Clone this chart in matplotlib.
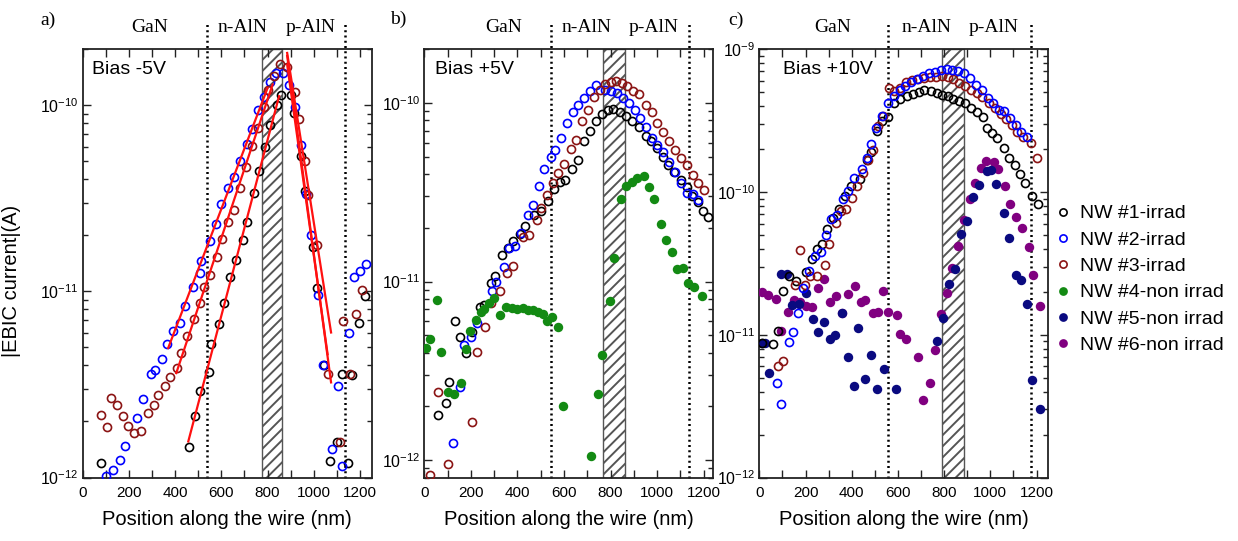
import numpy as np
import matplotlib.pyplot as plt
from matplotlib.lines import Line2D
from matplotlib.ticker import MultipleLocator, FixedLocator, NullFormatter

plt.rcParams['font.family'] = 'Liberation Sans'
plt.rcParams['mathtext.fontset'] = 'custom'
plt.rcParams['mathtext.rm'] = 'Liberation Sans'
plt.rcParams['hatch.linewidth'] = 1.4
plt.rcParams['hatch.color'] = '#777777'

# ---------------- data (position in nm, |EBIC| in A) ----------------
labels = ['NW #1-irrad', 'NW #2-irrad', 'NW #3-irrad',
          'NW #4-non irrad', 'NW #5-non irrad', 'NW #6-non irrad']
colors = ['#000000', '#0000ff', '#8b1414', '#138a13', '#0a0a80', '#800080']
filled = [False, False, False, True, True, True]

# panel a) bias -5V
a_nw1_x = [80, 458, 488, 509, 546, 556, 590, 611, 638, 662, 694, 713, 742, 761, 790, 812,
           839, 859, 900, 914, 943, 964, 997, 1016, 1045, 1070, 1099, 1121, 1150, 1164, 1196, 1223]
a_nw1_y = [1.2e-12, 1.45e-12, 2.15e-12, 2.9e-12, 3.7e-12, 5.2e-12, 6.7e-12, 8.7e-12, 1.2e-11,
           1.48e-11, 1.9e-11, 2.35e-11, 3.4e-11, 4.45e-11, 6.0e-11, 7.8e-11, 1.0e-10, 1.14e-10,
           1.14e-10, 9.1e-11, 5.35e-11, 3.45e-11, 1.74e-11, 1.04e-11, 4.0e-12, 1.22e-12,
           1.55e-12, 3.6e-12, 1.2e-12, 3.55e-12, 6.8e-12, 9.5e-12]
a_nw2_x = [99, 131, 160, 182, 236, 259, 294, 313, 345, 364, 389, 422, 441, 477, 509, 514, 549,
           575, 600, 630, 655, 681, 710, 731, 760, 783, 812, 837, 866, 895, 917, 943, 968, 990,
           1019, 1041, 1077, 1103, 1124, 1154, 1176, 1201, 1227]
a_nw2_y = [1.02e-12, 1.1e-12, 1.24e-12, 1.47e-12, 2.1e-12, 2.65e-12, 3.6e-12, 3.8e-12, 4.35e-12,
           5.2e-12, 6.1e-12, 6.8e-12, 8.4e-12, 1.05e-11, 1.26e-11, 1.46e-11, 1.86e-11, 2.3e-11,
           2.96e-11, 3.6e-11, 4.1e-11, 5.0e-11, 6.2e-11, 7.5e-11, 9.4e-11, 1.11e-10, 1.34e-10,
           1.5e-10, 1.5e-10, 1.29e-10, 9.8e-11, 6.1e-11, 3.33e-11, 2.02e-11, 9.6e-12, 4.0e-12,
           1.42e-12, 3.1e-12, 1.15e-12, 6.0e-12, 1.2e-11, 1.28e-11, 1.4e-11]
a_nw3_x = [80, 106, 124, 148, 175, 197, 221, 252, 284, 309, 328, 357, 378, 408, 426, 451, 483,
           507, 527, 550, 582, 601, 630, 655, 681, 706, 731, 757, 783, 800, 827, 856, 885, 920,
           936, 964, 975, 1012, 1063, 1114, 1128, 1157, 1182, 1208]
a_nw3_y = [2.17e-12, 1.86e-12, 2.68e-12, 2.46e-12, 2.15e-12, 1.9e-12, 1.74e-12, 1.77e-12,
           2.22e-12, 2.45e-12, 2.78e-12, 3.1e-12, 3.45e-12, 3.9e-12, 4.65e-12, 5.75e-12, 7.1e-12,
           8.7e-12, 1.05e-11, 1.22e-11, 1.53e-11, 1.91e-11, 2.35e-11, 2.73e-11, 3.6e-11, 4.65e-11,
           6.05e-11, 7.55e-11, 9.8e-11, 1.21e-10, 1.44e-10, 1.67e-10, 1.6e-10, 1.18e-10, 8.4e-11,
           5.0e-11, 3.3e-11, 1.78e-11, 3.6e-12, 1.55e-12, 6.9e-12, 3.6e-12, 7.6e-12, 1.02e-11]

# panel b) bias +5V
b_nw1_x = [60, 92, 104, 131, 152, 178, 203, 240, 257, 286, 305, 332, 358, 382, 412, 434, 473,
           501, 530, 556, 581, 606, 634, 659, 685, 710, 738, 764, 789, 810, 839, 868, 892, 921,
           950, 973, 997, 1023, 1047, 1072, 1101, 1126, 1151, 1177, 1195, 1217]
b_nw1_y = [1.78e-12, 2.1e-12, 2.75e-12, 6.0e-12, 4.9e-12, 4.0e-12, 5.2e-12, 7.2e-12, 7.4e-12,
           9.8e-12, 1.08e-11, 1.41e-11, 1.55e-11, 1.69e-11, 1.84e-11, 2.04e-11, 2.35e-11, 2.5e-11,
           2.83e-11, 3.3e-11, 3.6e-11, 3.7e-11, 4.25e-11, 4.8e-11, 6.1e-11, 6.95e-11, 7.95e-11,
           8.7e-11, 9.15e-11, 9.3e-11, 8.9e-11, 8.5e-11, 7.95e-11, 7.3e-11, 6.55e-11, 6.1e-11,
           5.6e-11, 5.0e-11, 4.5e-11, 4.1e-11, 3.7e-11, 3.4e-11, 3.03e-11, 2.8e-11, 2.5e-11, 2.3e-11]
b_nw2_x = [124, 154, 171, 200, 228, 290, 307, 341, 365, 389, 415, 447, 465, 491, 516, 542, 562,
           588, 612, 638, 659, 685, 710, 736, 777, 800, 829, 853, 878, 904, 925, 950, 976, 1000,
           1023, 1050, 1076, 1101, 1126, 1152, 1177]
b_nw2_y = [1.25e-12, 2.57e-12, 4.4e-12, 4.9e-12, 5.85e-12, 8.9e-12, 1.0e-11, 1.21e-11, 1.54e-11,
           1.58e-11, 1.88e-11, 2.35e-11, 2.68e-11, 3.43e-11, 4.27e-11, 5.0e-11, 5.45e-11, 6.4e-11,
           7.75e-11, 8.9e-11, 9.7e-11, 1.07e-10, 1.17e-10, 1.26e-10, 1.19e-10, 1.17e-10, 1.14e-10,
           1.07e-10, 1.0e-10, 9.15e-11, 8.3e-11, 7.3e-11, 6.4e-11, 5.8e-11, 5.35e-11, 4.67e-11,
           4.1e-11, 3.58e-11, 3.15e-11, 3.1e-11, 2.87e-11]
b_nw3_x = [24, 59, 103, 203, 226, 261, 286, 325, 355, 379, 425, 451, 484, 501, 526, 552, 573,
           599, 628, 652, 677, 703, 727, 753, 777, 803, 825, 849, 872, 897, 921, 954, 976, 1001,
           1026, 1050, 1076, 1102, 1126, 1152, 1177, 1203]
b_nw3_y = [8.3e-13, 2.4e-12, 9.5e-13, 1.63e-12, 4.05e-12, 5.6e-12, 7.6e-12, 8.9e-12, 1.12e-11,
           1.23e-11, 1.77e-11, 1.82e-11, 2.2e-11, 2.6e-11, 3.07e-11, 3.58e-11, 4.05e-11, 4.57e-11,
           5.5e-11, 6.2e-11, 7.95e-11, 9.1e-11, 1.08e-10, 1.19e-10, 1.28e-10, 1.32e-10, 1.33e-10,
           1.29e-10, 1.25e-10, 1.17e-10, 1.12e-10, 9.7e-11, 8.9e-11, 7.75e-11, 6.9e-11, 6.1e-11,
           5.45e-11, 4.9e-11, 4.47e-11, 3.95e-11, 3.58e-11, 3.24e-11]
b_nw4_x = [6, 24, 53, 73, 103, 128, 159, 178, 197, 221, 243, 257, 279, 300, 326, 351, 375, 398,
           422, 444, 468, 490, 509, 526, 547, 573, 595, 714, 746, 764, 796, 815, 843, 868, 892,
           915, 944, 964, 987, 1016, 1037, 1062, 1083, 1112, 1134, 1159, 1191]
b_nw4_y = [4.25e-12, 4.8e-12, 7.9e-12, 4.05e-12, 2.4e-12, 2.35e-12, 2.7e-12, 4.2e-12, 5.3e-12,
           6.1e-12, 6.8e-12, 7.0e-12, 7.6e-12, 8.1e-12, 6.5e-12, 7.2e-12, 7.1e-12, 7.0e-12,
           7.1e-12, 6.9e-12, 6.9e-12, 6.8e-12, 6.6e-12, 6.0e-12, 6.3e-12, 5.6e-12, 2.0e-12,
           1.06e-12, 2.35e-12, 3.9e-12, 7.8e-12, 1.36e-11, 2.9e-11, 3.43e-11, 3.6e-11, 3.8e-11,
           3.88e-11, 3.4e-11, 2.9e-11, 2.1e-11, 1.72e-11, 1.46e-11, 1.18e-11, 1.19e-11, 9.8e-12,
           9.3e-12, 8.3e-12]

# panel c) bias +10V
c_nw1_x = [10, 58, 80, 102, 127, 160, 204, 226, 248, 272, 294, 320, 345, 370, 396, 437, 464,
           483, 509, 531, 556, 582, 611, 639, 665, 690, 713, 742, 767, 792, 815, 840, 865, 891,
           917, 942, 968, 985, 1007, 1029, 1058, 1080, 1105, 1128, 1150, 1182, 1208]
c_nw1_y = [8.7e-12, 8.6e-12, 1.07e-11, 2.04e-11, 2.57e-11, 2.39e-11, 2.76e-11, 3.4e-11, 4.0e-11,
           4.3e-11, 5.5e-11, 6.6e-11, 7.6e-11, 9.4e-11, 1.11e-10, 1.24e-10, 1.67e-10, 1.92e-10,
           2.68e-10, 3.13e-10, 3.38e-10, 4.18e-10, 4.47e-10, 4.67e-10, 4.88e-10, 4.99e-10,
           5.16e-10, 5.07e-10, 4.93e-10, 4.8e-10, 4.67e-10, 4.49e-10, 4.37e-10, 4.22e-10,
           3.91e-10, 3.64e-10, 3.34e-10, 2.83e-10, 2.6e-10, 2.39e-10, 2.05e-10, 1.73e-10,
           1.55e-10, 1.34e-10, 1.16e-10, 9.4e-11, 8.3e-11]
c_nw2_x = [76, 93, 127, 146, 166, 188, 217, 243, 268, 290, 312, 335, 364, 386, 410, 444, 466,
           483, 505, 531, 556, 582, 607, 632, 658, 684, 709, 734, 760, 786, 811, 836, 862, 888,
           913, 937, 964, 988, 1012, 1036, 1061, 1083, 1109, 1134, 1160]
c_nw2_y = [4.6e-12, 3.25e-12, 8.9e-12, 1.04e-11, 1.42e-11, 2.13e-11, 2.8e-11, 3.55e-11, 3.8e-11,
           5.0e-11, 6.45e-11, 6.9e-11, 9.0e-11, 1.02e-10, 1.26e-10, 1.45e-10, 1.74e-10, 2.17e-10,
           2.8e-10, 3.43e-10, 4.22e-10, 4.67e-10, 5.16e-10, 5.57e-10, 5.89e-10, 6.23e-10,
           6.52e-10, 6.78e-10, 6.97e-10, 7.16e-10, 7.28e-10, 7.2e-10, 7.08e-10, 6.81e-10,
           6.33e-10, 5.61e-10, 5.16e-10, 4.59e-10, 4.18e-10, 3.78e-10, 3.7e-10, 3.31e-10,
           2.96e-10, 2.65e-10, 2.42e-10]
c_nw3_x = [80, 102, 156, 175, 197, 221, 250, 284, 301, 330, 352, 374, 403, 422, 447, 469, 491,
           512, 534, 560, 585, 611, 636, 662, 687, 713, 738, 764, 789, 815, 840, 865, 891, 917,
           942, 966, 993, 1019, 1044, 1068, 1092, 1117, 1141, 1175, 1204]
c_nw3_y = [6.0e-12, 6.6e-12, 2.22e-11, 3.9e-11, 2.22e-11, 2.6e-11, 2.6e-11, 3.1e-11, 4.3e-11,
           6.07e-11, 7.36e-11, 7.65e-11, 9.1e-11, 1.1e-10, 1.37e-10, 1.67e-10, 1.97e-10, 2.91e-10,
           3.43e-10, 5.37e-10, 5.1e-10, 5.37e-10, 5.9e-10, 6.1e-10, 6.24e-10, 6.34e-10, 6.44e-10,
           6.44e-10, 6.52e-10, 6.44e-10, 6.24e-10, 5.83e-10, 5.57e-10, 5.16e-10, 4.93e-10,
           4.61e-10, 4.22e-10, 3.89e-10, 3.53e-10, 3.25e-10, 2.96e-10, 2.65e-10, 2.42e-10,
           2.2e-10, 1.73e-10]
c_nw5_x = [10, 25, 44, 95, 122, 141, 173, 204, 233, 255, 279, 304, 328, 360, 386, 408, 429, 457,
           483, 508, 539, 592, 771, 796, 821, 847, 873, 901, 927, 949, 985, 1004, 1026, 1058,
           1080, 1109, 1131, 1160, 1182, 1214]
c_nw5_y = [8.7e-12, 8.7e-12, 5.4e-12, 2.66e-11, 2.66e-11, 1.62e-11, 1.63e-11, 1.95e-11, 1.29e-11,
           1.04e-11, 1.22e-11, 9.3e-12, 1.0e-11, 1.41e-11, 7.0e-12, 4.37e-12, 1.12e-11, 4.93e-12,
           7.2e-12, 4.2e-12, 5.75e-12, 4.2e-12, 9.0e-12, 1.32e-11, 2.25e-11, 2.87e-11, 5.1e-11,
           6.3e-11, 9.3e-11, 1.12e-10, 1.41e-10, 1.42e-10, 1.13e-10, 7.15e-11, 4.8e-11, 2.63e-11,
           2.42e-11, 1.64e-11, 4.8e-12, 3.0e-12]
c_nw6_x = [10, 39, 71, 95, 124, 151, 175, 204, 229, 253, 280, 306, 330, 360, 386, 413, 440, 459,
           493, 515, 534, 559, 597, 611, 636, 687, 709, 738, 760, 786, 811, 833, 859, 884, 910,
           935, 961, 981, 1015, 1034, 1063, 1087, 1112, 1135, 1167, 1186, 1216]
c_nw6_y = [2.0e-11, 1.91e-11, 1.78e-11, 1.07e-11, 1.45e-11, 1.75e-11, 1.71e-11, 1.58e-11,
           1.56e-11, 2.14e-11, 2.46e-11, 1.7e-11, 1.87e-11, 1.41e-11, 1.94e-11, 2.21e-11, 1.7e-11,
           1.75e-11, 1.41e-11, 1.44e-11, 2.02e-11, 1.44e-11, 1.37e-11, 1.02e-11, 9.4e-12, 7.0e-12,
           3.5e-12, 4.6e-12, 7.8e-12, 1.39e-11, 1.96e-11, 2.92e-11, 4.2e-11, 6.37e-11, 8.95e-11,
           1.15e-10, 1.48e-10, 1.64e-10, 1.62e-10, 1.44e-10, 1.1e-10, 8.3e-11, 6.67e-11, 5.64e-11,
           4.1e-11, 2.63e-11, 1.59e-11]

# exponential fits drawn in panel a: (series, fit range, drawn range), nm
a_fits = [(1, (360, 815), (370, 800)),
          (2, (400, 860), (405, 822)),
          (0, (455, 860), (457, 850)),
          (0, (880, 1020), (885, 1060)),
          (1, (880, 1020), (885, 1075)),
          (2, (880, 1020), (885, 1075))]

panels = [
    dict(tag='a)', bias='Bias -5V', xmax=1250, ylim=(1e-12, 2e-10),
         series=[(0, a_nw1_x, a_nw1_y), (1, a_nw2_x, a_nw2_y), (2, a_nw3_x, a_nw3_y)],
         borders=[540, 1135], band=(776, 863), names=[291, 694, 987]),
    dict(tag='b)', bias='Bias +5V', xmax=1240, ylim=(8e-13, 2e-10),
         series=[(0, b_nw1_x, b_nw1_y), (1, b_nw2_x, b_nw2_y), (2, b_nw3_x, b_nw3_y),
                 (3, b_nw4_x, b_nw4_y)],
         borders=[545, 1137], band=(767, 861), names=[343, 695, 983]),
    dict(tag='c)', bias='Bias +10V', xmax=1250, ylim=(1e-12, 1e-9),
         series=[(5, c_nw6_x, c_nw6_y), (4, c_nw5_x, c_nw5_y), (0, c_nw1_x, c_nw1_y),
                 (2, c_nw3_x, c_nw3_y), (1, c_nw2_x, c_nw2_y)],
         borders=[559, 1178], band=(792, 888), names=[316, 723, 1015]),
]
region_names = ['GaN', 'n-AlN', 'p-AlN']

# ---------------- layout (pixels of the 1238x541 image) ----------------
W, H = 1238, 541
lefts = [82.7, 424.3, 759.3]
tag_pos = [(48, 20), (398, 19), (736, 20)]
bias_x = [0.032, 0.037, 0.082]

fig = plt.figure(figsize=(W / 100, H / 100), dpi=100)


def plot_series(ax, idx, x, y):
    if filled[idx]:
        ax.plot(x, y, 'o', ms=6.8, mfc=colors[idx], mec=colors[idx], mew=0, zorder=3)
    else:
        ax.plot(x, y, 'o', ms=5.8, mfc='none', mec=colors[idx], mew=1.2, zorder=3)


def fit_line(ax, x, y, fit_rng, draw_rng):
    x = np.asarray(x, dtype=float)
    y = np.asarray(y, dtype=float)
    m = (x >= fit_rng[0]) & (x <= fit_rng[1])
    k, b = np.polyfit(x[m], np.log10(y[m]), 1)
    xs = np.array(draw_rng, dtype=float)
    ax.plot(xs, 10 ** (k * xs + b), color='#ff1010', lw=1.6, zorder=4)


def decade_ticks(lo, hi):
    e = np.arange(np.ceil(np.log10(lo) - 1e-9), np.floor(np.log10(hi) + 1e-9) + 1)
    major = 10.0 ** e
    minor = [m * 10.0 ** k for k in range(int(e[0]) - 1, int(e[-1]) + 1) for m in range(2, 10)]
    minor = [v for v in minor if lo <= v <= hi]
    return major, minor


axes = []
for i, p in enumerate(panels):
    ax = fig.add_axes([lefts[i] / W, 1 - 477.5 / H, 288.8 / W, 428.2 / H])
    axes.append(ax)
    ax.set_yscale('log')
    ax.set_xlim(0, p['xmax'])
    ax.set_ylim(*p['ylim'])
    ax.xaxis.set_major_locator(MultipleLocator(200))
    ax.xaxis.set_minor_locator(MultipleLocator(100))
    major, minor = decade_ticks(*p['ylim'])
    ax.yaxis.set_major_locator(FixedLocator(major))
    ax.yaxis.set_minor_locator(FixedLocator(minor))
    ax.yaxis.set_minor_formatter(NullFormatter())
    ax.tick_params(which='both', direction='in', top=True, right=True, width=1.0, color='#222222')
    ax.tick_params(axis='x', which='both', length=5.5, labelsize=11, pad=6)
    ax.tick_params(axis='y', which='major', length=6, labelsize=11.5, pad=3)
    ax.tick_params(axis='y', which='minor', length=3.8)
    for s in ax.spines.values():
        s.set_linewidth(1.3)
        s.set_color('#222222')

    ax.axvspan(*p['band'], facecolor='white', edgecolor='#555555', hatch='///', lw=1.0, zorder=1)
    for xb in p['borders']:
        ax.axvline(xb, ymin=0, ymax=1.06, clip_on=False, color='black', lw=1.8,
                   ls=(0, (0.8, 1.3)), zorder=2)
    for xn, name in zip(p['names'], region_names):
        ax.text(xn, 1.05, name, transform=ax.get_xaxis_transform(), ha='center', va='center',
                family='Liberation Serif', fontsize=14)
    ax.text(bias_x[i], 0.952, p['bias'], transform=ax.transAxes, ha='left', va='center',
            fontsize=14)

    for idx, x, y in p['series']:
        plot_series(ax, idx, x, y)

    ax.set_xlabel('Position along the wire (nm)', fontsize=14.5, labelpad=7)
    fig.text(tag_pos[i][0] / W, 1 - tag_pos[i][1] / H, p['tag'], ha='center', va='center',
             family='Liberation Serif', fontsize=14)

# fitted exponential slopes in panel a
a_series = {idx: (x, y) for idx, x, y in panels[0]['series']}
for idx, frng, drng in a_fits:
    fit_line(axes[0], *a_series[idx], frng, drng)

axes[0].set_ylabel('|EBIC current|(A)', fontsize=14.5)
axes[0].yaxis.set_label_coords(-0.215, 0.46)

handles = []
for idx in range(6):
    if filled[idx]:
        handles.append(Line2D([], [], ls='none', marker='o', ms=6.3, mfc=colors[idx],
                              mec=colors[idx], mew=0))
    else:
        handles.append(Line2D([], [], ls='none', marker='o', ms=5.2, mfc='none',
                              mec=colors[idx], mew=1.2))
fig.legend(handles, labels, loc='center left', bbox_to_anchor=(1053 / W, 1 - 279.5 / H),
           frameon=False, fontsize=14, handlelength=1.0, handletextpad=0.4,
           labelspacing=0.45, borderpad=0, borderaxespad=0)

fig.savefig('out.png', dpi=100)
